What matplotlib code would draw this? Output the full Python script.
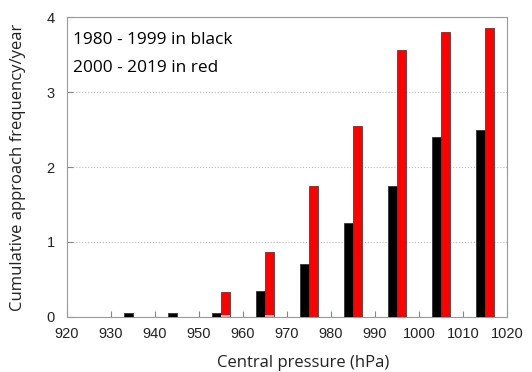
import matplotlib.pyplot as plt

pressure = [935, 945, 955, 965, 975, 985, 995, 1005, 1015]
freq_1980_1999 = [0.05, 0.05, 0.05, 0.35, 0.70, 1.25, 1.75, 2.40, 2.50]
freq_2000_2019 = [0.00, 0.00, 0.33, 0.87, 1.75, 2.55, 3.56, 3.80, 3.85]
# faint pink base visible at the bottom of two red bars
freq_base = [0.0, 0.0, 0.03, 0.03, 0.0, 0.0, 0.0, 0.0, 0.0]

fig = plt.figure(figsize=(5.32, 3.72), dpi=100)
ax = fig.add_axes([0.126, 0.148, 0.827, 0.806])

ax.bar(pressure, freq_1980_1999, width=-2, align="edge", color="black",
       edgecolor="#333333", linewidth=0.6, zorder=3)
ax.bar(pressure, freq_2000_2019, width=2, align="edge", color="#ff0000",
       edgecolor="#444444", linewidth=0.6, zorder=3)
ax.bar(pressure, freq_base, width=2, align="edge", color="#f2a0a0",
       linewidth=0, zorder=4)

ax.set_xlim(920, 1020)
ax.set_ylim(0, 4)
ax.set_xticks(range(920, 1021, 10))
ax.set_yticks([0, 1, 2, 3, 4])
ax.yaxis.grid(True, linestyle=":", color="#bbbbbb", linewidth=0.8)
ax.tick_params(direction="in", length=4, color="#888888", labelsize=10.5,
               labelcolor="#222222", top=False, right=False)
ax.tick_params(axis="x", pad=7.5)
ax.tick_params(axis="y", pad=9)
for lbl in ax.get_xticklabels() + ax.get_yticklabels():
    lbl.set_family("Liberation Sans")
for s in ax.spines.values():
    s.set_color("#999999")

ax.set_xlabel("Central pressure (hPa)", family="Open Sans", fontsize=12, color="#222222")
ax.set_ylabel("Cumulative approach frequency/year", family="Open Sans", fontsize=12,
              color="#222222")
ax.xaxis.set_label_coords(0.536, -0.127)
ax.yaxis.set_label_coords(-0.094, 0.5)

ax.text(0.014, 0.923, "1980 - 1999 in black", transform=ax.transAxes,
        family="Open Sans", fontsize=12.4, va="center", ha="left")
ax.text(0.014, 0.83, "2000 - 2019 in red", transform=ax.transAxes,
        family="Open Sans", fontsize=12.4, va="center", ha="left")

plt.savefig("out.png")
plt.close()
